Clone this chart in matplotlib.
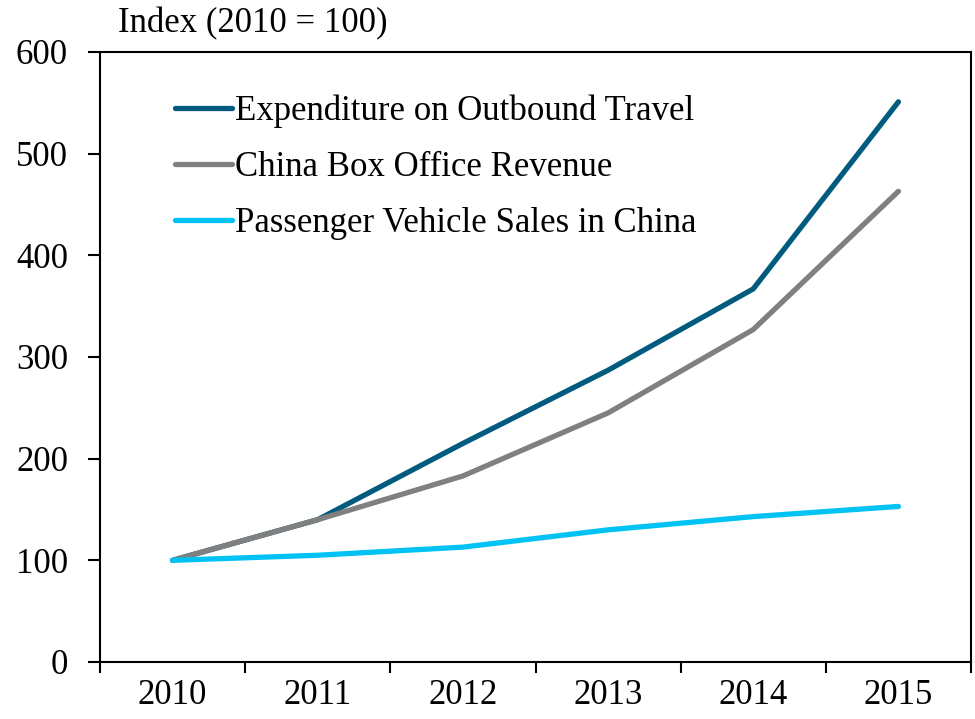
import matplotlib.pyplot as plt
import numpy as np

years = ["2010", "2011", "2012", "2013", "2014", "2015"]
travel = [100, 140, 215, 287, 367, 551]
box_office = [100, 140, 183, 245, 327, 463]
vehicles = [100, 105, 113, 130, 143, 153]

plt.rcParams['font.family'] = ['Liberation Serif', 'DejaVu Serif']
plt.rcParams['font.size'] = 25

fig = plt.figure(figsize=(9.75, 7.19), dpi=100)
ax = fig.add_axes([100 / 975, 1 - 662 / 719, 871 / 975, 610 / 719])

x = np.arange(len(years))
ax.plot(x, travel, color="#005b7f", lw=3.8, solid_capstyle="round", label="Expenditure on Outbound Travel")
ax.plot(x, box_office, color="#808080", lw=3.8, solid_capstyle="round", label="China Box Office Revenue")
ax.plot(x, vehicles, color="#00c3f3", lw=3.8, solid_capstyle="round", label="Passenger Vehicle Sales in China")

ax.set_xlim(-0.5, len(years) - 0.5)
ax.set_ylim(0, 600)
ax.set_yticks(range(0, 601, 100))

# category labels centered, ticks on boundaries
ax.set_xticks(np.arange(-0.5, len(years), 1))
ax.set_xticklabels([])
ax.set_xticks(x, minor=True)
ax.set_xticklabels(years, minor=True)
ax.tick_params(axis="x", which="minor", length=0, pad=12)
ax.tick_params(axis="x", which="major", direction="out", length=8, width=1.5)
ax.tick_params(axis="y", direction="out", length=9, width=1.5, pad=14)

for s in ax.spines.values():
    s.set_linewidth(1.5)

fig.text(118 / 975, 1 - 24 / 719, "Index (2010 = 100)", ha="left", va="center")

ax.legend(loc="upper left", bbox_to_anchor=(0.086, 0.93), frameon=False,
          handlelength=1.64, handletextpad=0.1, labelspacing=0.66, borderaxespad=0,
          borderpad=0)

fig.savefig("out.png", dpi=100)
